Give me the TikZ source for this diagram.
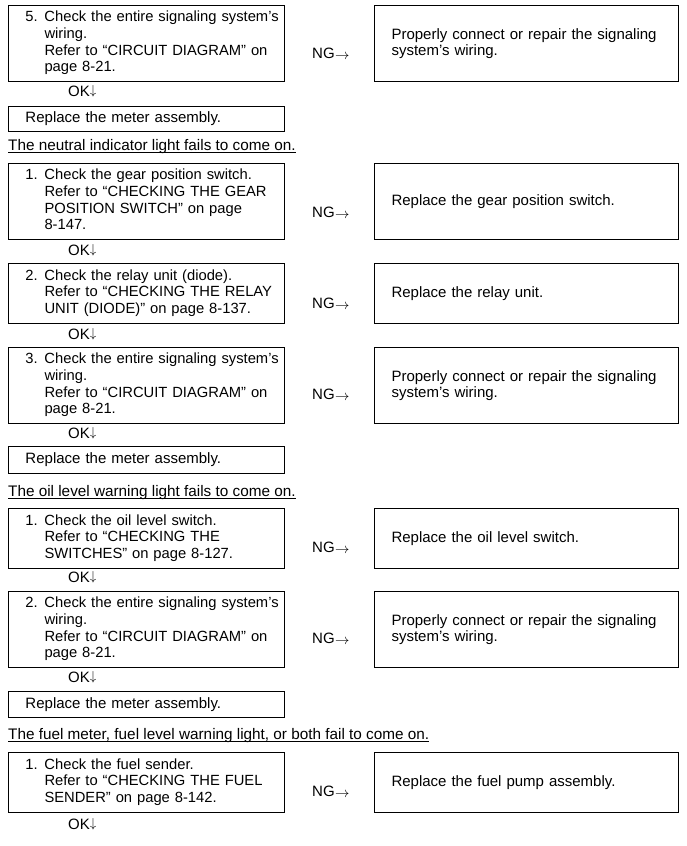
\documentclass[tikz,border=0pt]{standalone}
\usepackage{fontspec}
\setmainfont{Liberation Sans}
\usepackage{array}
\newcommand{\stp}[2]{\noindent\begin{tabular}{@{\hspace{17pt}}p{19pt}@{}l@{}}#1 & #2\end{tabular}}
\newcommand{\ngtext}{NG\kern0.5pt\raisebox{-1pt}{$\rightarrow$}}
\newcommand{\oktext}{OK\raisebox{2pt}{\scalebox{0.9}{$\downarrow$}}}
\begin{document}
\begin{tikzpicture}[x=1pt,y=-1pt,
  every node/.style={font=\fontsize{15}{16.7}\selectfont},
  lbox/.style={draw, line width=1pt, anchor=north west, text width=276pt, inner xsep=0pt, inner ysep=0pt, align=left, font=\fontsize{14.75}{16.7}\selectfont},
  rbox/.style={draw, line width=1pt, anchor=north west, text width=270pt, inner xsep=17pt, inner ysep=0pt, align=left},
  lab/.style={anchor=base west, inner sep=0pt},
  head/.style={anchor=base west, inner sep=0pt, font=\fontsize{15.3}{17}\selectfont},
  uline/.style={line width=0.9pt}]
\useasboundingbox (0,0) rectangle (686,846);
% block 1
\node[lbox, minimum height=76pt] (a) at (8,5) {\stp{5.}{Check the entire signaling system’s\\ & wiring.\\ & Refer to “CIRCUIT DIAGRAM” on\\ & page 8-21.}};
\node[rbox, minimum height=76pt] (ar) at (374,5) {Properly connect or repair the signaling\\system’s wiring.};
\node[lab] (ang) at (312,58) {\ngtext};
\node[lab] (aok) at (68,96) {\oktext};
\node[lbox, minimum height=25pt, font=\fontsize{15}{16.7}\selectfont] (rep1) at (8,106) {\hspace*{17pt}Replace the meter assembly.};
\node[head] (h1) at (8,150) {The neutral indicator light fails to come on.};
\draw[uline] ([yshift=-2pt]h1.base west) -- ([yshift=-2pt]h1.base east);
% neutral 1
\node[lbox, minimum height=76pt] (b) at (8,163) {\stp{1.}{Check the gear position switch.\\ & Refer to “CHECKING THE GEAR\\ & POSITION SWITCH” on page\\ & 8-147.}};
\node[rbox, minimum height=76pt] (br) at (374,163) {Replace the gear position switch.};
\node[lab] (bng) at (312,217) {\ngtext};
\node[lab] (bok) at (68,255) {\oktext};
% neutral 2
\node[lbox, minimum height=60pt] (c) at (8,263) {\stp{2.}{Check the relay unit (diode).\\ & Refer to “CHECKING THE RELAY\\ & UNIT (DIODE)” on page 8-137.}};
\node[rbox, minimum height=60pt] (cr) at (374,263) {Replace the relay unit.};
\node[lab] (cng) at (312,308) {\ngtext};
\node[lab] (cok) at (68,339) {\oktext};
% neutral 3
\node[lbox, minimum height=76pt] (d) at (8,347) {\stp{3.}{Check the entire signaling system’s\\ & wiring.\\ & Refer to “CIRCUIT DIAGRAM” on\\ & page 8-21.}};
\node[rbox, minimum height=76pt] (dr) at (374,347) {Properly connect or repair the signaling\\system’s wiring.};
\node[lab] (dng) at (312,399) {\ngtext};
\node[lab] (dok) at (68,438) {\oktext};
\node[lbox, minimum height=27pt, font=\fontsize{15}{16.7}\selectfont] (rep2) at (8,446) {\hspace*{17pt}Replace the meter assembly.};
\node[head] (h2) at (8,496) {The oil level warning light fails to come on.};
\draw[uline] ([yshift=-2pt]h2.base west) -- ([yshift=-2pt]h2.base east);
% oil 1
\node[lbox, minimum height=60pt] (e) at (8,508) {\stp{1.}{Check the oil level switch.\\ & Refer to “CHECKING THE\\ & SWITCHES” on page 8-127.}};
\node[rbox, minimum height=60pt] (er) at (374,508) {Replace the oil level switch.};
\node[lab] (eng) at (312,552) {\ngtext};
\node[lab] (eok) at (68,582) {\oktext};
% oil 2
\node[lbox, minimum height=76pt] (f) at (8,591) {\stp{2.}{Check the entire signaling system’s\\ & wiring.\\ & Refer to “CIRCUIT DIAGRAM” on\\ & page 8-21.}};
\node[rbox, minimum height=76pt] (fr) at (374,591) {Properly connect or repair the signaling\\system’s wiring.};
\node[lab] (fng) at (312,643) {\ngtext};
\node[lab] (fok) at (68,682) {\oktext};
\node[lbox, minimum height=26pt, font=\fontsize{15}{16.7}\selectfont] (rep3) at (8,691) {\hspace*{17pt}Replace the meter assembly.};
\node[head] (h3) at (8,739) {The fuel meter, fuel level warning light, or both fail to come on.};
\draw[uline] ([yshift=-2pt]h3.base west) -- ([yshift=-2pt]h3.base east);
% fuel 1
\node[lbox, minimum height=60pt] (g) at (8,752) {\stp{1.}{Check the fuel sender.\\ & Refer to “CHECKING THE FUEL\\ & SENDER” on page 8-142.}};
\node[rbox, minimum height=60pt] (gr) at (374,752) {Replace the fuel pump assembly.};
\node[lab] (gng) at (312,796) {\ngtext};
\node[lab] (gok) at (68,829) {\oktext};
\end{tikzpicture}
\end{document}
